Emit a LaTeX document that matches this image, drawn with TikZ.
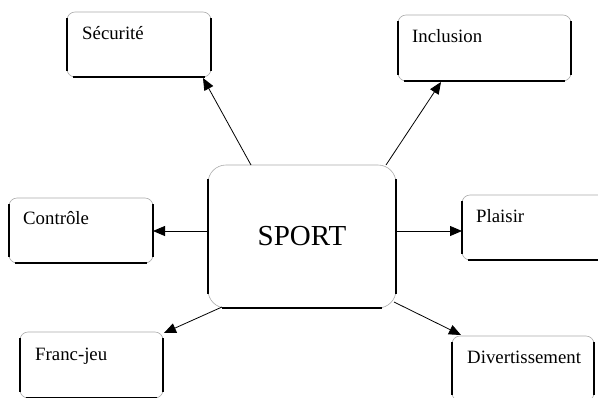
\documentclass[tikz,border=0pt]{standalone}
\usepackage{fontspec}
\setmainfont{Liberation Serif}
\usetikzlibrary{arrows.meta,calc}
\tikzset{
  box/.style={rectangle, rounded corners=8pt, draw=gray!65, line width=0.6pt, fill=white,
    inner sep=0pt, outer sep=0pt},
  bigbox/.style={box, rounded corners=18pt},
  txt/.style={font=\fontsize{18.8}{22}\selectfont, anchor=base west, inner sep=0pt, label distance=0pt},
  side/.style={draw=black, line width=1.2pt},
  conn/.style={draw=black, line width=0.8pt, -{Triangle[length=12pt,width=10pt]}}
}
\begin{document}
\begin{tikzpicture}[x=1pt,y=-1pt]
\useasboundingbox (0,0) rectangle (598,397);
\clip (0,0) rectangle (598,397);
\fill[white] (0,0) rectangle (598,397);

\node[box, minimum width=144pt, minimum height=65pt,
  label={[txt, xshift=15pt, yshift=-27pt]north west:Sécurité}] (sec) at (139,44.5) {};
\node[box, minimum width=173pt, minimum height=66pt,
  label={[txt, xshift=14pt, yshift=-27pt]north west:Inclusion}] (inc) at (484.5,48) {};
\node[box, minimum width=144pt, minimum height=65pt,
  label={[txt, xshift=14pt, yshift=-26pt]north west:Contrôle}] (con) at (81,230.5) {};
\node[bigbox, minimum width=188pt, minimum height=143pt,
  label={[font=\fontsize{29}{34}\selectfont, anchor=base, inner sep=0pt, label distance=0pt]center:SPORT}] (sport) at (302,236.5) {};
\node[box, minimum width=148pt, minimum height=65pt,
  label={[txt, xshift=14pt, yshift=-27pt]north west:Plaisir}] (pla) at (536,227.5) {};
\node[box, minimum width=143pt, minimum height=66pt,
  label={[txt, xshift=15pt, yshift=-28pt]north west:Franc-jeu}] (fra) at (91.5,365) {};
\node[box, minimum width=142pt, minimum height=65pt,
  label={[txt, xshift=15pt, yshift=-27pt]north west:Divertissement}] (div) at (523,368.5) {};

% darker sides of the boxes
\foreach \n/\r in {sec/6,inc/6,con/6,pla/6,fra/6,div/6,sport/14} {
  \path[side] ($(\n.north west)+(0,\r)$) -- ($(\n.south west)+(0,-\r)$);
  \path[side] ($(\n.south west)+(\r,0)$) -- ($(\n.south east)+(-\r,0)$);
  \path[side] ($(\n.north east)+(0,\r)$) -- ($(\n.south east)+(0,-\r)$);
}

% connectors
\path[conn] ($(sport.north west)+(43,0)$) -- ($(sec.south east)+(-8,1)$);
\path[conn] ($(sport.north east)+(-10,0)$) -- ($(inc.south west)+(43,1)$);
\path[conn] ($(sport.north west)+(0,66)$) -- (con.east |- {$(sport.north west)+(0,66)$});
\path[conn] ($(sport.north east)+(0,66)$) -- (pla.west |- {$(sport.north east)+(0,66)$});
\path[conn] ($(sport.south west)+(14,-1)$) -- ($(fra.north east)+(1,1)$);
\path[conn] ($(sport.south east)+(-2,-6)$) -- ($(div.north west)+(9,-1)$);
\end{tikzpicture}
\end{document}
